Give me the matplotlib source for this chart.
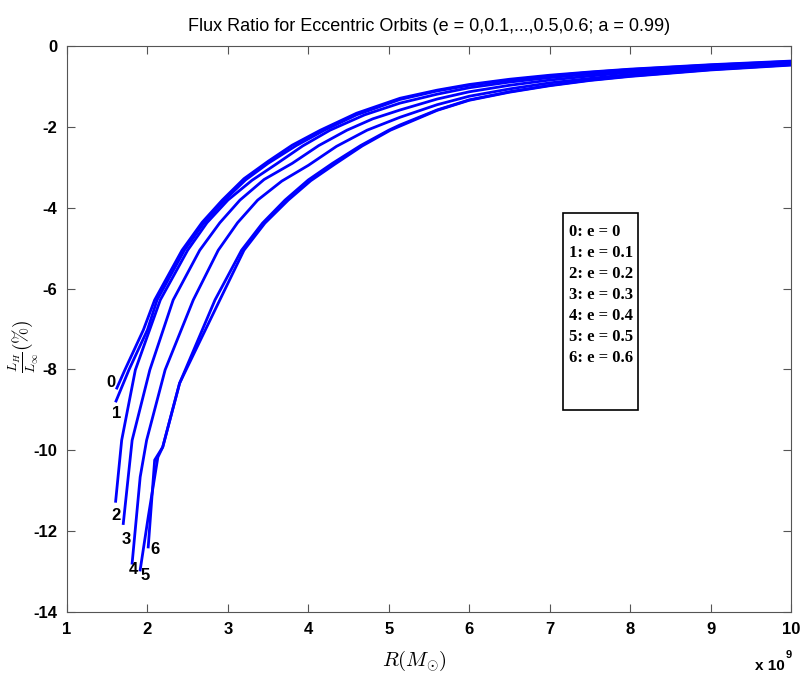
import numpy as np
import matplotlib
matplotlib.use("Agg")
import matplotlib.pyplot as plt
from matplotlib.patches import Rectangle

plt.rcParams['mathtext.fontset'] = 'cm'
plt.rcParams['axes.unicode_minus'] = False

# radius (x 10^9) and flux ratio (%)
r0 = [1.62, 1.72, 1.95, 2.09, 2.43, 2.68, 2.93, 3.2, 3.5, 3.8, 4.15, 4.6, 5.14, 5.6, 6, 6.5, 7, 7.5, 8, 9, 10]
v0 = [-8.46, -8.01, -7.02, -6.28, -5.05, -4.36, -3.81, -3.28, -2.85, -2.45, -2.08, -1.66, -1.29, -1.09, -0.95, -0.82, -0.72, -0.64, -0.57, -0.46, -0.37]
r1 = [1.61, 1.77, 2.00, 2.12, 2.46, 2.7, 2.96, 3.22, 3.5, 3.85, 4.2, 4.6, 5.14, 5.6, 6, 6.5, 7, 7.5, 8, 9, 10]
v1 = [-8.78, -8.01, -7.02, -6.28, -5.05, -4.38, -3.81, -3.31, -2.90, -2.46, -2.08, -1.70, -1.32, -1.11, -0.97, -0.84, -0.74, -0.65, -0.58, -0.47, -0.38]
r2 = [1.605, 1.68, 1.85, 2.16, 2.50, 2.74, 3.00, 3.3, 3.6, 3.93, 4.27, 4.7, 5.14, 5.6, 6, 6.5, 7, 7.5, 8, 9, 10]
v2 = [-11.26, -9.75, -8.01, -6.28, -5.05, -4.37, -3.81, -3.32, -2.92, -2.47, -2.08, -1.70, -1.41, -1.19, -1.03, -0.89, -0.78, -0.69, -0.61, -0.49, -0.40]
r3 = [1.70, 1.81, 2.03, 2.32, 2.65, 2.9, 3.15, 3.45, 3.8, 4.13, 4.48, 4.8, 5.14, 5.6, 6, 6.5, 7, 7.5, 8, 9, 10]
v3 = [-11.81, -9.75, -8.01, -6.28, -5.05, -4.37, -3.81, -3.30, -2.90, -2.46, -2.08, -1.80, -1.58, -1.31, -1.13, -0.97, -0.84, -0.74, -0.65, -0.52, -0.42]
r4 = [1.81, 1.91, 1.99, 2.22, 2.57, 2.88, 3.12, 3.37, 3.67, 4.0, 4.35, 4.73, 5.14, 5.6, 6, 6.5, 7, 7.5, 8, 9, 10]
v4 = [-12.79, -10.66, -9.75, -8.01, -6.28, -5.05, -4.37, -3.81, -3.34, -2.95, -2.48, -2.08, -1.76, -1.45, -1.24, -1.06, -0.91, -0.80, -0.70, -0.55, -0.44]
r5 = [1.91, 2.01, 2.13, 2.19, 2.40, 2.84, 3.17, 3.43, 3.71, 4.0, 4.3, 4.65, 5.0, 5.14, 5.6, 6, 6.5, 7, 7.5, 8, 9, 10]
v5 = [-12.96, -11.65, -10.17, -9.92, -8.34, -6.28, -5.05, -4.38, -3.81, -3.31, -2.90, -2.46, -2.08, -1.95, -1.58, -1.33, -1.13, -0.97, -0.84, -0.74, -0.58, -0.46]
r6 = [2.01, 2.09, 2.19, 2.40, 2.90, 3.20, 3.46, 3.75, 4.03, 4.33, 4.67, 5.02, 5.6, 6, 6.5, 7, 7.5, 8, 9, 10]
v6 = [-12.39, -10.24, -9.92, -8.34, -6.28, -5.05, -4.38, -3.81, -3.33, -2.92, -2.47, -2.08, -1.59, -1.34, -1.14, -0.98, -0.85, -0.75, -0.59, -0.47]

curve_r = [r0, r1, r2, r3, r4, r5, r6]
curve_v = [v0, v1, v2, v3, v4, v5, v6]

# curve number labels next to the lower ends
label_text = ['0', '1', '2', '3', '4', '5', '6']
label_x = [1.55, 1.62, 1.61, 1.74, 1.82, 1.97, 2.1]
label_y = [-8.33, -9.08, -11.62, -12.2, -12.95, -13.1, -12.45]

legend_lines = ['0: e = 0', '1: e = 0.1', '2: e = 0.2', '3: e = 0.3',
                '4: e = 0.4', '5: e = 0.5', '6: e = 0.6']

sans = ['Liberation Sans', 'DejaVu Sans']

fig = plt.figure(figsize=(8.01, 6.78), dpi=100)
ax = fig.add_axes([0.0836, 0.0973, 0.904, 0.8347])

for r, v in zip(curve_r, curve_v):
    ax.plot(r, v, color='#0000ff', lw=2, solid_joinstyle='round')

for t, x, y in zip(label_text, label_x, label_y):
    ax.text(x, y, t, fontsize=12, fontweight='bold', ha='center', va='center', family=sans)

ax.add_patch(Rectangle((7.17, -9.0), 0.93, 4.87, fill=False, ec='black', lw=1.2))
for i, s in enumerate(legend_lines):
    ax.text(7.24, -4.6 - i * 0.52, s, fontsize=12, fontweight='bold',
            family='Liberation Serif', va='center', ha='left')

ax.set_xlim(1, 10)
ax.set_ylim(-14, 0)
ax.set_xticks(range(1, 11))
ax.set_yticks(range(-14, 1, 2))
ax.tick_params(direction='in', top=True, right=True, length=6, color='#555555', pad=7)
for lab in ax.get_xticklabels() + ax.get_yticklabels():
    lab.set_fontweight('bold')
    lab.set_fontsize(12)
    lab.set_family(sans)
for sp in ax.spines.values():
    sp.set_color('#555555')

ax.set_title('Flux Ratio for Eccentric Orbits (e = 0,0.1,...,0.5,0.6; a = 0.99)',
             fontsize=13, family=sans, pad=11)
ax.set_xlabel(r'$R(M_{\odot})$', fontsize=15)
ax.xaxis.set_label_coords(0.48, -0.065)
ax.set_ylabel(r'$\frac{L_H}{L_\infty}(\%)$', fontsize=14, va='center')
ax.yaxis.set_label_coords(-0.06, 0.47)
fig.text(0.943, 0.012, 'x 10', fontsize=11, fontweight='bold', family=sans)
fig.text(0.981, 0.03, '9', fontsize=8, fontweight='bold', family=sans)

fig.savefig('out.png', dpi=100)
